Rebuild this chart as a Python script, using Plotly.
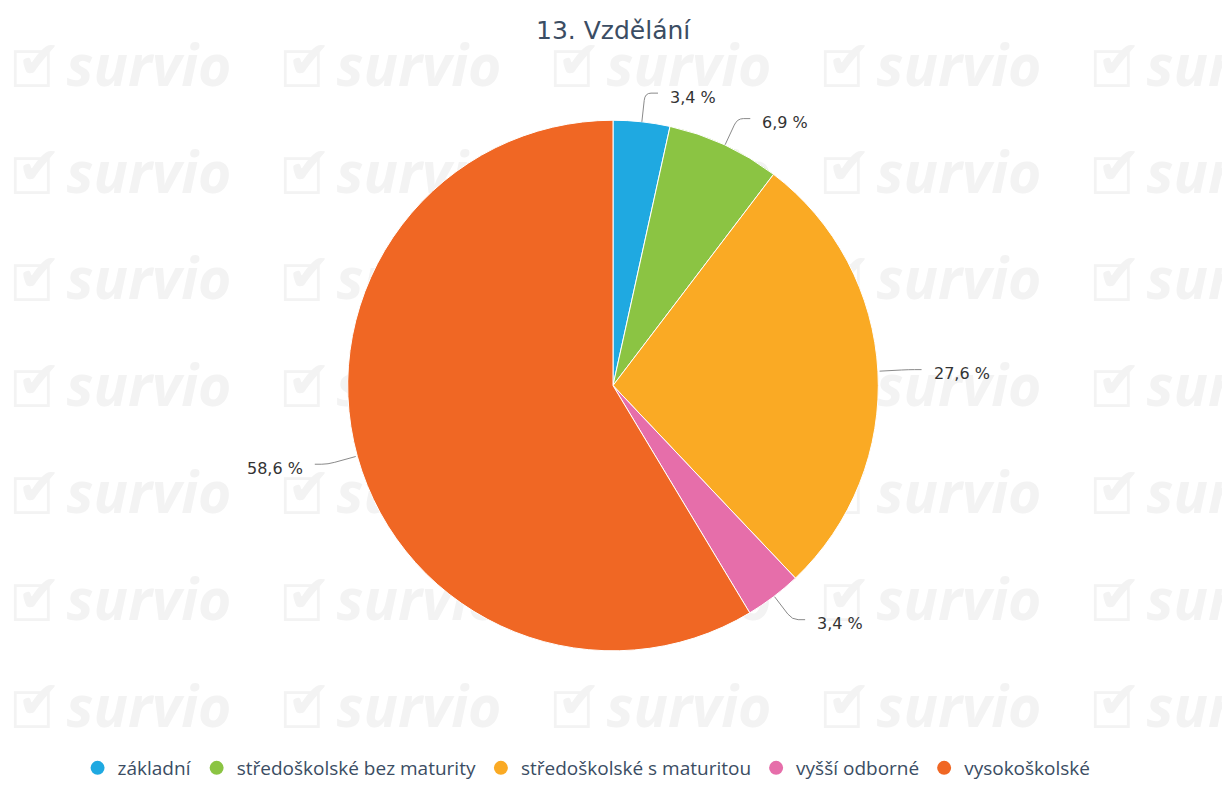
import math
import plotly.graph_objects as go

# ---- data ----
categories = ["základní", "středoškolské bez maturity", "středoškolské s maturitou",
              "vyšší odborné", "vysokoškolské"]
counts = [1, 2, 8, 1, 17]
colors = ["#1fa9e1", "#8bc443", "#faaa24", "#e66eaa", "#f06724"]
title_text = "13. Vzdělání"

# ---- layout constants (pixels) ----
W, H = 1222, 787
CX, CY, R = 613, 388, 267
WM = "#f3f3f3"


def px_x(x):
    return x / W


def px_y(y):
    return 1 - y / H


fig = go.Figure()

# watermark (drawn on the hidden cartesian layer, below the pie)
bx, by, tx, ty, sx, sy = [], [], [], [], [], []
for row in range(7):
    for col in range(5):
        x0 = 8 + col * 270
        y0 = 72 + row * 107.5
        bx.append(x0 + 24); by.append(y0 + 3)
        tx.append(x0 + 31); ty.append(y0 - 7)
        sx.append(x0 + 141); sy.append(y0)
fig.add_trace(go.Scatter(x=bx, y=by, mode="text", text=["☐"] * len(bx),
                         textfont=dict(family="DejaVu Sans", size=50, color=WM),
                         hoverinfo="skip", showlegend=False))
fig.add_trace(go.Scatter(x=tx, y=ty, mode="text", text=["✔"] * len(tx),
                         textfont=dict(family="DejaVu Sans", size=52, color=WM),
                         hoverinfo="skip", showlegend=False))
fig.add_trace(go.Scatter(x=sx, y=sy, mode="text", text=["survio"] * len(sx),
                         textfont=dict(family="Open Sans", size=57, color=WM,
                                       weight="bold", style="italic"),
                         hoverinfo="skip", showlegend=False))

# pie
fig.add_trace(go.Pie(
    labels=categories, values=counts, sort=False, direction="clockwise", rotation=0,
    marker=dict(colors=colors, line=dict(color="white", width=1)),
    textinfo="none", showlegend=False, hoverinfo="label+percent",
    domain=dict(x=[px_x(CX - R), px_x(CX + R)], y=[px_y(CY + R), px_y(CY - R)]),
))

# legend entries with round markers
for cat, col in zip(categories, colors):
    fig.add_trace(go.Scatter(x=[None], y=[None], mode="markers", name=cat,
                             marker=dict(symbol="circle", size=14, color=col)))

# data labels with connectors
total = sum(counts)
cum = 0.0
shapes, annotations = [], []
for c in counts:
    frac = c / total
    theta = 2 * math.pi * (cum + frac / 2)
    cum += frac
    s, co = math.sin(theta), math.cos(theta)
    sign = 1 if s >= 0 else -1
    P = (CX + R * s, CY - R * co)
    E = (CX + (R + 29) * s, CY - (R + 29) * co)
    A = (P[0] + 0.75 * (E[0] - P[0]), P[1] + 0.75 * (E[1] - P[1]))
    B = (E[0] + sign * 6, E[1])
    End = (E[0] + sign * 13, E[1])
    path = (f"M {px_x(P[0])} {px_y(P[1])} L {px_x(A[0])} {px_y(A[1])} "
            f"Q {px_x(E[0])} {px_y(E[1])} {px_x(B[0])} {px_y(B[1])} "
            f"L {px_x(End[0])} {px_y(End[1])}")
    shapes.append(dict(type="path", path=path, xref="paper", yref="paper",
                       line=dict(color="#8a8a8a", width=1)))
    txt = f"{frac * 100:.1f} %".replace(".", ",")
    annotations.append(dict(text=txt, x=px_x(E[0] + sign * 23), y=px_y(E[1] + 4),
                            xref="paper", yref="paper", showarrow=False,
                            xanchor="left" if sign > 0 else "right", yanchor="middle",
                            font=dict(family="DejaVu Sans", size=16, color="#333333")))

annotations.append(dict(text=title_text, x=px_x(CX), y=px_y(31), xref="paper", yref="paper",
                        showarrow=False, xanchor="center", yanchor="middle",
                        font=dict(family="DejaVu Sans", size=25, color="#3b4d63")))

fig.update_layout(
    width=W, height=H,
    margin=dict(l=0, r=0, t=0, b=0),
    paper_bgcolor="white", plot_bgcolor="white",
    xaxis=dict(range=[0, W], visible=False, fixedrange=True),
    yaxis=dict(range=[H, 0], visible=False, fixedrange=True),
    shapes=shapes, annotations=annotations,
    legend=dict(orientation="h", x=0.48, xanchor="center", y=px_y(773), yanchor="middle",
                font=dict(family="Open Sans", size=19, color="#3b4d63"),
                itemclick=False, itemdoubleclick=False),
    showlegend=True,
)

fig.write_html("out.html", config={"displayModeBar": False},
               post_script="document.body.style.margin='0';document.body.style.overflow='hidden';")
